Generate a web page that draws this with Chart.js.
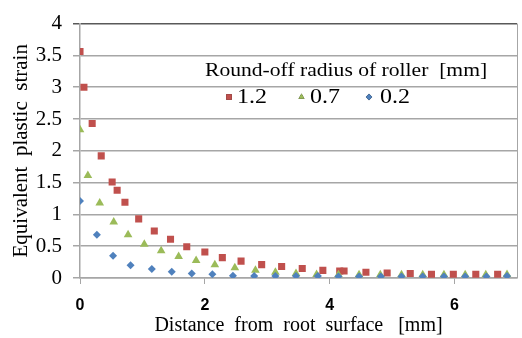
<!DOCTYPE html>
<html>
<head>
<meta charset="utf-8">
<script src="https://cdn.jsdelivr.net/npm/chart.js@4/dist/chart.umd.min.js"></script>
<style>
  html, body { margin: 0; padding: 0; background: #ffffff; }
  #wrap { width: 522px; height: 338px; }
</style>
</head>
<body>
<div id="wrap"><canvas id="c" width="522" height="338"></canvas></div>
<script>
// ---- data ----
const legendTitle = "Round-off radius of roller  [mm]";
const xTitle = "Distance  from  root  surface   [mm]";
const yTitle = "Equivalent  plastic  strain";
const seriesLabels = ["1.2", "0.7", "0.2"];

const x12 = [0, 0.063, 0.195, 0.34, 0.515, 0.595, 0.72, 0.94, 1.19, 1.45, 1.71, 2.0, 2.28, 2.58, 2.91, 3.23, 3.56, 3.89, 4.16, 4.23, 4.58, 4.92, 5.29, 5.63, 5.98, 6.34, 6.69];
const y12 = [3.56, 3.0, 2.43, 1.92, 1.51, 1.38, 1.19, 0.93, 0.74, 0.61, 0.49, 0.41, 0.32, 0.265, 0.21, 0.18, 0.15, 0.12, 0.11, 0.11, 0.09, 0.08, 0.07, 0.06, 0.06, 0.06, 0.06];

const x07 = [0, 0.126, 0.316, 0.54, 0.77, 1.03, 1.30, 1.58, 1.86, 2.16, 2.48, 2.81, 3.13, 3.46, 3.79, 4.14, 4.47, 4.81, 5.15, 5.49, 5.83, 6.17, 6.5, 6.84];
const y07 = [2.33, 1.61, 1.18, 0.88, 0.68, 0.53, 0.43, 0.34, 0.275, 0.21, 0.16, 0.12, 0.09, 0.07, 0.055, 0.05, 0.05, 0.05, 0.05, 0.05, 0.05, 0.05, 0.05, 0.055];

const x02 = [0, 0.27, 0.53, 0.81, 1.15, 1.47, 1.79, 2.12, 2.45, 2.79, 3.13, 3.46, 3.81, 4.14, 4.47, 4.82, 5.15, 5.49, 5.83, 6.17, 6.51, 6.84];
const y02 = [1.21, 0.68, 0.35, 0.20, 0.14, 0.10, 0.07, 0.06, 0.035, 0.03, 0.03, 0.03, 0.03, 0.025, 0.025, 0.025, 0.025, 0.025, 0.025, 0.025, 0.025, 0.03];

const xTicks = [0, 2, 4, 6];
const yTicks = [0, 0.5, 1, 1.5, 2, 2.5, 3, 3.5, 4];

// ---- styling ----
const RED = '#C0504D', GREEN = '#9BBB59', BLUE = '#4F81BD';
const GRID = '#A6A6A6';
const SERIF = '"Liberation Serif", "Times New Roman", serif';
const SANS = '"Liberation Sans", Arial, sans-serif';

function pts(xs, ys) { return xs.map((x, i) => ({ x: x, y: ys[i] })); }

// draw text stretched horizontally (the reference text is slightly wide)
function wideText(ctx, text, x, y, sx) {
  ctx.save();
  ctx.translate(x, y);
  ctx.scale(sx, 1);
  ctx.fillText(text, 0, 0);
  ctx.restore();
}

const legendPlugin = {
  id: 'insideLegend',
  afterDatasetsDraw(chart) {
    const ctx = chart.ctx;
    ctx.save();
    ctx.fillStyle = '#000';
    ctx.font = '18px ' + SERIF;
    ctx.textAlign = 'left';
    ctx.textBaseline = 'alphabetic';
    wideText(ctx, legendTitle, 205, 76, 1.2);
    const markX = [229, 301.5, 369];
    const textX = [237, 310, 380];
    ctx.font = '20px ' + SERIF;
    ctx.textBaseline = 'middle';
    [0, 1, 2].forEach((di, k) => {
      const ds = chart.data.datasets[di];
      Chart.helpers.drawPoint(ctx, {
        pointStyle: ds.pointStyle, radius: ds.legendRadius, rotation: 0, borderWidth: 0
      }, markX[k], 97);
      ctx.fillStyle = ds.backgroundColor;
      ctx.fill();
      ctx.fillStyle = '#000';
      wideText(ctx, ds.label, textX[k], 98, 1.2);
    });
    ctx.restore();
  }
};

const borderPlugin = {
  id: 'rightBorder',
  beforeDatasetsDraw(chart) {
    const { ctx, chartArea } = chart;
    ctx.save();
    ctx.strokeStyle = GRID;
    ctx.lineWidth = 1;
    ctx.beginPath();
    ctx.moveTo(chartArea.right + 0.5, chartArea.top);
    ctx.lineTo(chartArea.right + 0.5, chartArea.bottom);
    ctx.stroke();
    ctx.restore();
  }
};

new Chart(document.getElementById('c'), {
  type: 'scatter',
  data: {
    datasets: [
      { label: seriesLabels[0], data: pts(x12, y12), pointStyle: 'rect', pointRadius: 5, legendRadius: 4,
        backgroundColor: RED, borderColor: RED, borderWidth: 0, order: 2 },
      { label: seriesLabels[1], data: pts(x07, y07), pointStyle: 'triangle', pointRadius: 5, legendRadius: 3.5,
        backgroundColor: GREEN, borderColor: GREEN, borderWidth: 0, order: 1 },
      { label: seriesLabels[2], data: pts(x02, y02), pointStyle: 'rectRot', pointRadius: 4, legendRadius: 3.2,
        backgroundColor: BLUE, borderColor: BLUE, borderWidth: 0, order: 0 }
    ]
  },
  options: {
    responsive: false,
    devicePixelRatio: 1,
    animation: false,
    events: [],
    layout: { padding: { top: 16, right: 1, left: 0, bottom: 0 } },
    plugins: { legend: { display: false }, tooltip: { enabled: false } },
    scales: {
      x: {
        type: 'linear', min: 0, max: 7,
        afterBuildTicks: (s) => { s.ticks = xTicks.map(v => ({ value: v })); },
        afterFit: (s) => { s.height = 60; },
        grid: { drawOnChartArea: false, drawTicks: true, tickLength: 6, color: GRID, lineWidth: 1 },
        border: { display: true, color: GRID, width: 1.5 },
        ticks: { color: '#000', font: { family: SANS, size: 16, weight: 'bold' }, padding: 12, maxRotation: 0,
                 callback: (v) => String(v) },
        title: { display: true, text: xTitle, color: '#000', font: { family: SERIF, size: 20, lineHeight: 1.2 },
                 padding: { top: 0, bottom: 0 } }
      },
      y: {
        type: 'linear', min: 0, max: 4,
        afterBuildTicks: (s) => { s.ticks = yTicks.map(v => ({ value: v })); },
        afterFit: (s) => { s.width = 80; },
        grid: { drawTicks: true, tickLength: 7, lineWidth: 1.5,
                color: (c) => (c.tick && c.tick.value === 4) ? '#595959' : GRID },
        border: { display: true, color: GRID, width: 1.5 },
        ticks: { color: '#000', font: { family: SERIF, size: 21 }, padding: 11,
                 callback: (v) => String(v) },
        title: { display: true, text: yTitle, color: '#000', font: { family: SERIF, size: 21, lineHeight: 1.2 },
                 padding: { top: 9, bottom: 0 } }
      }
    }
  },
  plugins: [borderPlugin, legendPlugin]
});
</script>
</body>
</html>
